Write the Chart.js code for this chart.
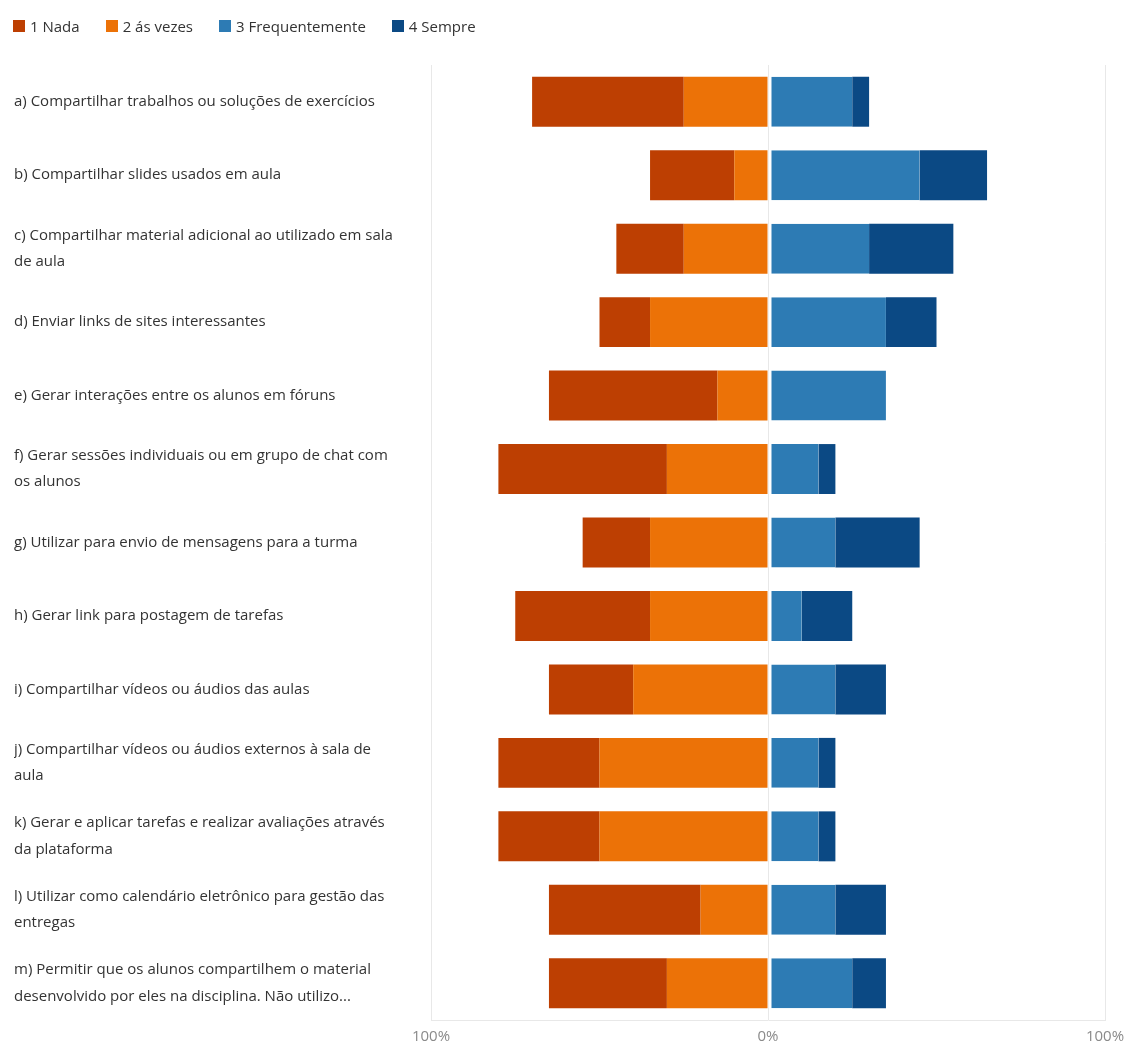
<!DOCTYPE html>
<html lang="pt">
  <head>
    <meta charset="UTF-8" />
    <title>Uso da plataforma</title>
    <script src="https://cdn.jsdelivr.net/npm/chart.js@4/dist/chart.umd.min.js"></script>
    <style>
      body { margin: 0; background: #fff; font-family: "Open Sans", sans-serif; overflow: hidden; }
      #wrap { position: relative; width: 1133px; height: 1046px; overflow: hidden; }
      #legend { position: absolute; left: 13px; top: 16px; display: flex; gap: 26px; font-size: 15px; color: #333; }
      #legend span.item { display: flex; align-items: center; }
      #legend i { display: inline-block; width: 12px; height: 12px; margin-right: 5px; }
    </style>
  </head>
  <body>
    <div id="wrap">
      <div id="legend"></div>
      <canvas id="chart" width="1133" height="1054"></canvas>
    </div>
    <script>
      const categories = [
        ["a) Compartilhar trabalhos ou soluções de exercícios"],
        ["b) Compartilhar slides usados em aula"],
        ["c) Compartilhar material adicional ao utilizado em sala", "de aula"],
        ["d) Enviar links de sites interessantes"],
        ["e) Gerar interações entre os alunos em fóruns"],
        ["f) Gerar sessões individuais ou em grupo de chat com", "os alunos"],
        ["g) Utilizar para envio de mensagens para a turma"],
        ["h) Gerar link para postagem de tarefas"],
        ["i) Compartilhar vídeos ou áudios das aulas"],
        ["j) Compartilhar vídeos ou áudios externos à sala de", "aula"],
        ["k) Gerar e aplicar tarefas e realizar avaliações através", "da plataforma"],
        ["l) Utilizar como calendário eletrônico para gestão das", "entregas"],
        ["m) Permitir que os alunos compartilhem o material", "desenvolvido por eles na disciplina. Não utilizo..."]
      ];

      // percentages per answer
      const nada = [45, 25, 20, 15, 50, 50, 20, 40, 25, 30, 30, 45, 35];
      const asVezes = [25, 10, 25, 35, 15, 30, 35, 35, 40, 50, 50, 20, 30];
      const frequentemente = [25, 45, 30, 35, 35, 15, 20, 10, 20, 15, 15, 20, 25];
      const sempre = [5, 20, 25, 15, 0, 5, 25, 15, 15, 5, 5, 15, 10];

      const xTicks = [-100, 0, 100];

      const colors = {
        nada: "#BD3F02",
        asVezes: "#EC7207",
        freq: "#2D7BB4",
        sempre: "#0B4984"
      };

      // negative side: first dataset sits next to zero
      const datasets = [
        { label: "2 ás vezes", data: asVezes.map((v) => -v), backgroundColor: colors.asVezes },
        { label: "1 Nada", data: nada.map((v) => -v), backgroundColor: colors.nada },
        {
          label: "3 Frequentemente",
          data: frequentemente,
          backgroundColor: colors.freq,
          borderColor: "#fff",
          borderWidth: { left: 3, right: 0, top: 0, bottom: 0 },
          borderSkipped: false
        },
        { label: "4 Sempre", data: sempre, backgroundColor: colors.sempre }
      ];

      const legendOrder = [1, 0, 2, 3];
      const legend = document.getElementById("legend");
      legendOrder.forEach((i) => {
        const d = datasets[i];
        legend.innerHTML += '<span class="item"><i style="background:' + d.backgroundColor + '"></i>' + d.label + "</span>";
      });

      new Chart(document.getElementById("chart"), {
        type: "bar",
        data: { labels: categories, datasets },
        options: {
          indexAxis: "y",
          responsive: false,
          animation: false,
          layout: { padding: { left: 14, right: 28, top: 65, bottom: 0 } },
          plugins: { legend: { display: false }, tooltip: { enabled: false } },
          datasets: { bar: { barPercentage: 0.68, categoryPercentage: 1 } },
          scales: {
            x: {
              stacked: true,
              min: -100,
              max: 100,
              afterBuildTicks: (scale) => {
                scale.ticks = xTicks.map((v) => ({ value: v }));
              },
              ticks: {
                callback: (v) => Math.abs(v) + "%",
                color: "#8a8a8a",
                font: { family: "Open Sans", size: 15 },
                padding: 8
              },
              grid: { color: "#e8e8e8", drawTicks: false },
              border: { display: true, color: "#e8e8e8" }
            },
            y: {
              stacked: true,
              afterFit: (scale) => {
                scale.width = 417;
              },
              ticks: {
                crossAlign: "far",
                color: "#333",
                font: { family: "Open Sans", size: 15, lineHeight: 1.75 }
              },
              grid: { display: false },
              border: { display: false }
            }
          }
        }
      });
    </script>
  </body>
</html>
